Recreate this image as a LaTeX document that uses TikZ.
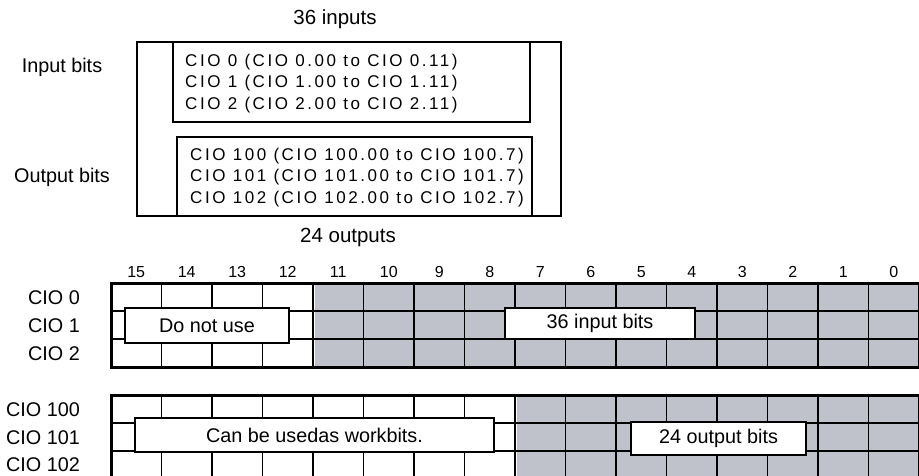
\documentclass[tikz,border=0pt]{standalone}
\usepackage{fontspec}
\setmainfont{Liberation Sans}
\newfontfamily\spacedfont[LetterSpace=15]{Liberation Sans}
\definecolor{cellgray}{RGB}{191,194,203}
\begin{document}
\begin{tikzpicture}[x=1pt,y=-1pt,
  lbl/.style={inner sep=0pt,font=\fontsize{19.8}{22}\selectfont},
  bitno/.style={inner sep=0pt,font=\fontsize{16}{18}\selectfont},
  inner/.style={inner sep=0pt,anchor=west,font=\spacedfont\fontsize{17}{19}\selectfont},
  boxline/.style={line width=1.7pt},
  outerline/.style={line width=3pt},
  rowline/.style={line width=2.7pt},
  thickv/.style={line width=2.8pt},
  thinv/.style={line width=1.6pt},
  tagbox/.style={draw,line width=1.5pt,fill=white,inner sep=0pt,font=\fontsize{19.8}{22}\selectfont}]
\useasboundingbox (0,0) rectangle (919,475);

% ---- upper explanation boxes ----
\node[lbl,font=\fontsize{20.5}{22}\selectfont] (in36) at (335,19) {36 inputs};
\node[lbl,font=\fontsize{20.5}{22}\selectfont] (out24) at (348,237) {24 outputs};
\node[lbl] (inbits) at (62,67) {Input bits};
\node[lbl] (outbits) at (62,177) {Output bits};
\draw[boxline] (137,42) rectangle (561,216);
\draw[boxline] (173,42) rectangle (530,122);
\draw[boxline] (177,137) rectangle (532,216);
\node[inner] (i0) at (185,62) {CIO 0 (CIO 0.00 to CIO 0.11)};
\node[inner] (i1) at (185,83) {CIO 1 (CIO 1.00 to CIO 1.11)};
\node[inner] (i2) at (185,105) {CIO 2 (CIO 2.00 to CIO 2.11)};
\node[inner] (o0) at (190,156) {CIO 100 (CIO 100.00 to CIO 100.7)};
\node[inner] (o1) at (190,177) {CIO 101 (CIO 101.00 to CIO 101.7)};
\node[inner] (o2) at (190,199) {CIO 102 (CIO 102.00 to CIO 102.7)};

% ---- bit numbers ----
\foreach \i in {0,...,15}{
  \pgfmathsetmacro{\cx}{111+50.5*(15-\i)+25.25}
  \node[bitno] (b\i) at (\cx,272) {\i};
}

% ---- row labels ----
\node[lbl,anchor=east] (r0) at (80,298) {CIO 0};
\node[lbl,anchor=east] (r1) at (80,326) {CIO 1};
\node[lbl,anchor=east] (r2) at (80,354) {CIO 2};
\node[lbl,anchor=east] (r100) at (80,410) {CIO 100};
\node[lbl,anchor=east] (r101) at (80,438) {CIO 101};
\node[lbl,anchor=east] (r102) at (80,465) {CIO 102};

% ---- grids ----
\fill[cellgray] (315,283) rectangle (919,367);
\fill[cellgray] (517,395) rectangle (919,479);
\foreach \top in {283,395}{
  \foreach \i in {1,...,15}{
    \pgfmathsetmacro{\vx}{111+50.5*\i}
    \pgfmathtruncatemacro{\m}{mod(\i,4)}
    \ifnum\m=0
      \draw[thickv] (\vx,\top) -- (\vx,\top+84);
    \else
      \draw[thinv] (\vx,\top) -- (\vx,\top+84);
    \fi
  }
  \draw[rowline] (111,\top+28) -- (919,\top+28);
  \draw[rowline] (111,\top+56) -- (919,\top+56);
  \draw[outerline] (111,\top) rectangle (919,\top+84);
}

% ---- overlay tags ----
\node[tagbox,minimum width=164pt,minimum height=35pt] (dnu) at (207,325.5) {Do not use};
\node[tagbox,minimum width=190pt,minimum height=31pt] (inb) at (600,323.5) {36 input bits};
\node[tagbox,minimum width=359pt,minimum height=34pt] (work) at (314.5,435) {Can be usedas workbits.};
\node[tagbox,minimum width=175pt,minimum height=33pt] (outb) at (718.5,438.5) {24 output bits};
\end{tikzpicture}
\end{document}
